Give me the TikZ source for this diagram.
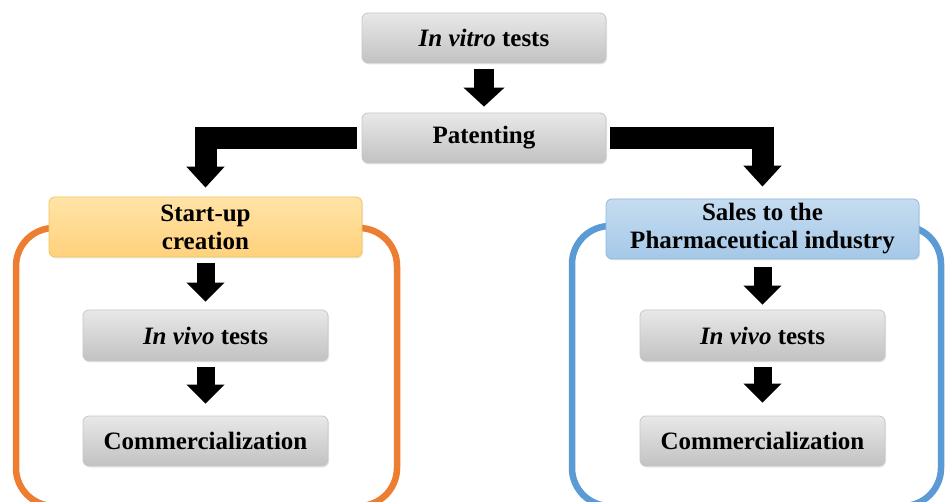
\documentclass[tikz,border=0pt]{standalone}
\usepackage{fontspec}
\setmainfont{Liberation Serif}
\usetikzlibrary{arrows.meta,shadows}
\definecolor{frameorange}{HTML}{ED7D31}
\definecolor{frameblue}{HTML}{5B9BD5}
\definecolor{orangetop}{HTML}{FFE4A8}
\definecolor{orangebot}{HTML}{FFD17A}
\definecolor{orangeedge}{HTML}{F6C45A}
\tikzset{
  graybox/.style={rounded corners=6pt, draw=black!22, line width=0.8pt,
    top color=black!9, bottom color=black!24, inner sep=0pt,
    drop shadow={opacity=0.18, shadow xshift=1pt, shadow yshift=-1.5pt},
    font=\fontsize{25}{28}\selectfont\bfseries, align=center},
  orangehead/.style={graybox, draw=orangeedge, top color=orangetop, bottom color=orangebot},
  bluehead/.style={graybox, draw=frameblue!70, top color=frameblue!35, bottom color=frameblue!55},
  bigarr/.style={draw=black, line width=20pt, line join=miter,
    -{Triangle[width=40pt,length=19pt]}},
  elbowarr/.style={bigarr, line width=22pt, -{Triangle[width=37pt,length=21pt]}},
  smallarr/.style={bigarr, line width=18pt, -{Triangle[width=37pt,length=19pt]}},
  framebox/.style={line width=6.5pt, rounded corners=38pt}
}
\begin{document}
\begin{tikzpicture}[x=1pt,y=-1pt]
\useasboundingbox (0,0) rectangle (945,502);
\clip (0,0) rectangle (945,502);
\fill[white] (0,0) rectangle (945,502);
% frames
\draw[framebox, frameorange] (16,228) rectangle (397,506);
\draw[framebox, frameblue] (572,226) rectangle (941,506);
% nodes
\node[graybox, minimum width=244pt, minimum height=50pt] (vitro) at (484,38) {\textit{In vitro} tests};
\node[graybox, minimum width=244pt, minimum height=50pt] (pat) at (484,138) {Patenting};
\node[orangehead, minimum width=313pt, minimum height=60pt] (start) at (205.5,227) {Start-up\\creation};
\node[bluehead, minimum width=313pt, minimum height=60pt] (sales) at (762.5,229) {Sales to the\\Pharmaceutical industry};
\node[graybox, minimum width=245pt, minimum height=51pt] (vivoL) at (205.5,335.5) {\textit{In vivo} tests};
\node[graybox, minimum width=245pt, minimum height=50pt] (comL) at (205.5,441) {Commercialization};
\node[graybox, minimum width=245pt, minimum height=51pt] (vivoR) at (762.5,335.5) {\textit{In vivo} tests};
\node[graybox, minimum width=245pt, minimum height=50pt] (comR) at (762.5,441) {Commercialization};
% arrows
\draw[bigarr] ([yshift=-6pt]vitro.south) -- ([yshift=6pt]pat.north);
\draw[elbowarr] ([xshift=-5pt]pat.west) -| ([yshift=9pt]start.north);
\draw[elbowarr] ([xshift=4pt]pat.east) -| ([yshift=12pt]sales.north);
\draw[smallarr] ([yshift=-6pt]start.south) -- ([yshift=8pt]vivoL.north);
\draw[smallarr] ([yshift=-6pt]vivoL.south) -- ([yshift=12pt]comL.north);
\draw[smallarr] ([yshift=-8pt]sales.south) -- ([yshift=5pt]vivoR.north);
\draw[smallarr] ([yshift=-6pt]vivoR.south) -- ([yshift=13pt]comR.north);
\end{tikzpicture}
\end{document}
